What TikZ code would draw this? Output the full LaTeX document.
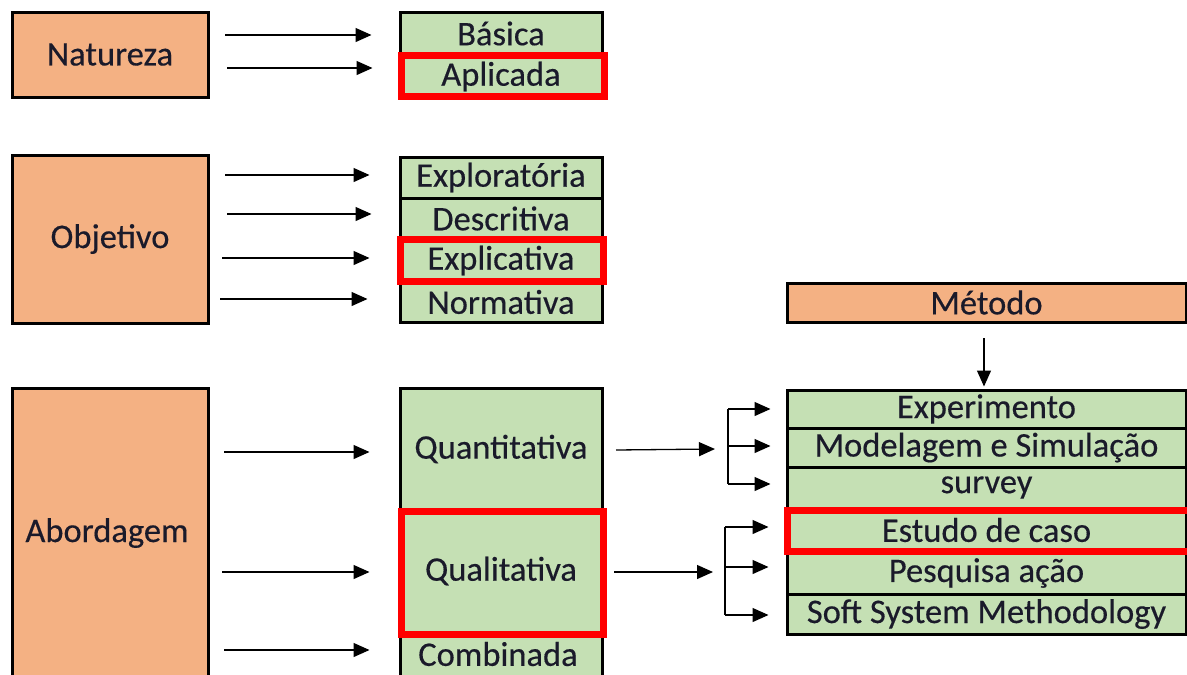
\documentclass[tikz,border=0pt]{standalone}
\usepackage{fontspec}
\setmainfont{Carlito}[FakeBold=0.35]
\usetikzlibrary{arrows.meta}
\definecolor{org}{HTML}{F4B183}
\definecolor{grn}{HTML}{C5E0B4}
\definecolor{txt}{HTML}{1A1A2A}
\begin{document}
\begin{tikzpicture}[x=1pt,y=-1pt,
 cell/.style={draw=black, line width=3pt, fill=grn, rectangle, inner sep=0pt, text=txt, font=\fontsize{34.5}{38}\selectfont},
 cat/.style={cell, fill=org},
 lbl/.style={text=txt, font=\fontsize{34.5}{38}\selectfont, inner sep=0pt},
 hl/.style={draw=red, line width=7pt, rectangle, inner sep=0pt},
 arr/.style={line width=1.3pt, -{Triangle[length=16pt,width=14pt]}},
 ln/.style={line width=1.3pt}]
\fill[white] (0,0) rectangle (1187,675);
\clip (0,0) rectangle (1187,675);

% Natureza
\node[cat, minimum width=196pt, minimum height=85pt] (nat) at (110,54.5) {Natureza};
\node[cell, minimum width=202pt, minimum height=43pt] (bas) at (501,33.5) {Básica};
\node[cell, minimum width=202pt, minimum height=43pt] (apl) at (501,76.5) {Aplicada};
\node[hl, minimum width=203pt, minimum height=41pt] (aplR) at (502.5,75.5) {};
\coordinate (n1) at (225,35); \coordinate (n2) at (227,68);
\draw[arr, shorten >=27pt] (n1) -- (n1 -| bas.west);
\draw[arr, shorten >=26pt] (n2) -- (n2 -| apl.west);

% Objetivo
\node[cat, minimum width=196pt, minimum height=168pt] (obj) at (110,239) {Objetivo};
\node[cell, minimum width=202pt, minimum height=41pt] (explo) at (501,177.5) {Exploratória};
\node[cell, minimum width=202pt, minimum height=41pt] (desc) at (501,218.5) {Descritiva};
\node[cell, minimum width=202pt, minimum height=43pt] (expli) at (501,260.5) {Explicativa};
\node[cell, minimum width=202pt, minimum height=40pt] (norm) at (501,302) {Normativa};
\node[hl, minimum width=203pt, minimum height=42pt] (expliR) at (501.5,260) {};
\coordinate (o1) at (225,175); \coordinate (o2) at (227,214);
\coordinate (o3) at (222,258); \coordinate (o4) at (220,299);
\draw[arr, shorten >=29pt] (o1) -- (o1 -| explo.west);
\draw[arr, shorten >=27pt] (o2) -- (o2 -| desc.west);
\draw[arr, shorten >=29pt] (o3) -- (o3 -| expli.west);
\draw[arr, shorten >=31pt] (o4) -- (o4 -| norm.west);

% Abordagem
\node[cat, minimum width=196pt, minimum height=302pt] (abo) at (110,539) {};
\node[lbl] (abot) at (107,533) {Abordagem};
\node[cell, minimum width=202pt, minimum height=122pt] (quan) at (501,449) {Quantitativa};
\node[cell, minimum width=202pt, minimum height=122pt] (qual) at (501,571) {Qualitativa};
\node[cell, minimum width=202pt, minimum height=56pt, anchor=north] (comb) at (501,632) {};
\node[lbl] (combt) at (498,654) {Combinada};
\node[hl, minimum width=202pt, minimum height=123pt] (qualR) at (502,572.5) {};
\coordinate (a1) at (224,452); \coordinate (a2) at (222,572); \coordinate (a3) at (224,650);
\draw[arr, shorten >=29pt] (a1) -- (a1 -| quan.west);
\draw[arr, shorten >=29pt] (a2) -- (a2 -| qual.west);
\draw[arr, shorten >=29pt] (a3) -- (a3 -| comb.west);

% Metodo
\node[cat, minimum width=399pt, minimum height=39pt] (met) at (986.5,302.5) {Método};
\node[cell, minimum width=399pt, minimum height=38pt] (exper) at (986.5,409) {Experimento};
\node[cell, minimum width=399pt, minimum height=39pt] (model) at (986.5,447.5) {Modelagem e Simulação};
\node[cell, minimum width=399pt, minimum height=41pt] (surv) at (986.5,487.5) {survey};
\node[cell, minimum width=399pt, minimum height=44pt] (estu) at (986.5,530) {Estudo de caso};
\node[cell, minimum width=399pt, minimum height=42pt] (pesq) at (986.5,573) {Pesquisa ação};
\node[cell, minimum width=399pt, minimum height=40pt] (soft) at (986.5,614) {Soft System Methodology};
\node[hl, minimum width=410pt, minimum height=41pt] (estuR) at (992,530.5) {};
\coordinate (m1) at (984,338);
\draw[arr, shorten >=2pt] (m1) -- (m1 |- exper.north);

% branches quantitativa
\coordinate (q1) at (616,450); \coordinate (q2) at (715,449);
\draw[arr] (q1) -- (q2);
\coordinate (qb1) at (728,409); \coordinate (qb2) at (728,446); \coordinate (qb3) at (728,484);
\draw[ln] (qb1) -- (qb3);
\draw[arr, shorten >=15pt] (qb1) -- (qb1 -| exper.west);
\draw[arr, shorten >=15pt] (qb2) -- (qb2 -| model.west);
\draw[arr, shorten >=15pt] (qb3) -- (qb3 -| surv.west);

% branches qualitativa
\coordinate (l1) at (614,572); \coordinate (l2) at (713,572);
\draw[arr] (l1) -- (l2);
\coordinate (lb1) at (725,527); \coordinate (lb2) at (725,567); \coordinate (lb3) at (725,615);
\draw[ln] (lb1) -- (lb3);
\draw[arr, shorten >=17pt] (lb1) -- (lb1 -| estu.west);
\draw[arr, shorten >=17pt] (lb2) -- (lb2 -| pesq.west);
\draw[arr, shorten >=17pt] (lb3) -- (lb3 -| soft.west);
\end{tikzpicture}
\end{document}
